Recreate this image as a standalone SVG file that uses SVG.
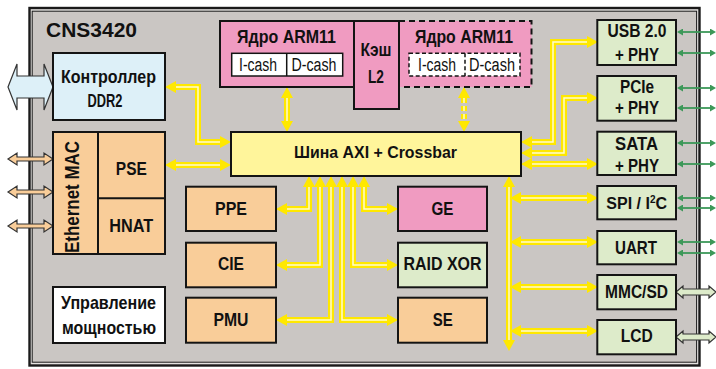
<svg xmlns="http://www.w3.org/2000/svg" width="716" height="369" viewBox="0 0 716 369">
<style>
.b{stroke:#141414;stroke-width:2}
.pink{fill:#f09bc1}.peach{fill:#f9cd99}.green{fill:#ddebca}.blue{fill:#ddf0f8}.white{fill:#fff}.bus{fill:#fff59b}
.t{font-family:"Liberation Sans",Arial,sans-serif;font-weight:700;font-size:17.5px;text-anchor:middle;fill:#111}
.r{font-family:"Liberation Sans",Arial,sans-serif;font-weight:400;font-size:18px;text-anchor:middle;fill:#111}
.yo{fill:none;stroke:#ffe800;stroke-width:6;marker-start:url(#ya);marker-end:url(#ya)}
.yi{fill:none;stroke:#fffbd0;stroke-width:1.5}
.gl{fill:none;stroke:#3c9858;stroke-width:1.8;marker-start:url(#ga);marker-end:url(#ga)}
.ho{stroke:#333;stroke-width:1.2}
</style>
<defs>
<marker id="ya" viewBox="0 0 11 12" refX="0" refY="6" markerWidth="11" markerHeight="12" markerUnits="userSpaceOnUse" orient="auto-start-reverse"><path d="M0,0 L11,6 L0,12 Z" fill="#ffe800"/></marker>
<marker id="ga" viewBox="0 0 6 7" refX="0" refY="3.5" markerWidth="6" markerHeight="7" markerUnits="userSpaceOnUse" orient="auto-start-reverse"><path d="M0,0 L6,3.5 L0,7 Z" fill="#3c9858"/></marker>
</defs>
<g id="frame">
<rect x="29.5" y="8" width="670" height="357.5" fill="#e4e2e0" stroke="#1a1a1a" stroke-width="2.4"/>
<rect x="32.2" y="11.2" width="664.4" height="351" fill="#cac6c3" stroke="#1a1a1a" stroke-width="1"/>
<text class="t" x="46" y="37" style="text-anchor:start;font-size:19.5px" textLength="91" lengthAdjust="spacingAndGlyphs">CNS3420</text>
</g>
<g id="connectors">
<path class="yo" d="M220,142 H198 V87 H176"/><path class="yi" d="M220,142 H198 V87 H176"/>
<path class="yo" d="M176,165 H220"/><path class="yi" d="M176,165 H220"/>
<path class="yo" d="M287,98 V121"/><path class="yi" d="M287,98 V121"/>
<path class="yo" d="M464,98 V121" stroke-dasharray="5 3"/><path class="yi" d="M464,98 V121" stroke-dasharray="5 3"/>
<path class="yo" d="M309,187 V209 H287"/><path class="yi" d="M309,187 V209 H287"/>
<path class="yo" d="M320,187 V265 H287"/><path class="yi" d="M320,187 V265 H287"/>
<path class="yo" d="M331,187 V320 H287"/><path class="yi" d="M331,187 V320 H287"/>
<path class="yo" d="M342,187 V320 H387"/><path class="yi" d="M342,187 V320 H387"/>
<path class="yo" d="M353,187 V265 H387"/><path class="yi" d="M353,187 V265 H387"/>
<path class="yo" d="M364,187 V209 H387"/><path class="yi" d="M364,187 V209 H387"/>
<path class="yo" d="M532,142 H553 V42 H587"/><path class="yi" d="M532,142 H553 V42 H587"/>
<path class="yo" d="M532,153 H564 V98 H587"/><path class="yi" d="M532,153 H564 V98 H587"/>
<path class="yo" d="M532,164 H587"/><path class="yi" d="M532,164 H587"/>
<path class="yo" d="M509,187 V340"/><path class="yi" d="M509,187 V340"/>
<path class="yo" d="M521,198 H587"/><path class="yi" d="M521,198 H587"/>
<path class="yo" d="M521,242 H587"/><path class="yi" d="M521,242 H587"/>
<path class="yo" d="M521,287 H587"/><path class="yi" d="M521,287 H587"/>
<path class="yo" d="M521,331 H587"/><path class="yi" d="M521,331 H587"/>
<path class="gl" d="M683,32 H710"/><path class="gl" d="M683,53 H710"/>
<path class="gl" d="M683,88 H710"/><path class="gl" d="M683,108 H710"/>
<path class="gl" d="M683,143 H710"/><path class="gl" d="M683,164 H710"/>
<path class="gl" d="M683,198 H710"/><path class="gl" d="M683,208 H710"/>
<path class="gl" d="M683,242 H710"/><path class="gl" d="M683,253 H710"/>
<polygon class="ho" fill="#ddebca" points="676,292 683,286 683,289 709,289 709,286 716,292 709,298 709,295 683,295 683,298"/>
<polygon class="ho" fill="#ddebca" points="676,337 683,331 683,334 709,334 709,331 716,337 709,343 709,340 683,340 683,343"/>
<polygon class="ho" fill="#f9cd99" points="8,159 17,153 17,157 44,157 44,153 53,159 44,165 44,161 17,161 17,165"/>
<polygon class="ho" fill="#f9cd99" points="8,192 17,186 17,190 44,190 44,186 53,192 44,198 44,194 17,194 17,198"/>
<polygon class="ho" fill="#f9cd99" points="8,226 17,220 17,224 44,224 44,220 53,226 44,232 44,228 17,228 17,232"/>
<polygon class="ho" fill="#ddf0f8" points="8,87 17,64 17,76 44,76 44,64 53,87 44,110 44,98 17,98 17,110"/>
</g>
<g id="ddr2">
<rect class="b blue" x="53" y="53" width="112" height="67"/>
<text class="t" x="108.5" y="83" style="font-size:18.5px" textLength="95" lengthAdjust="spacingAndGlyphs">Контроллер</text>
<text class="t" x="105" y="107" style="font-size:18.5px" textLength="35" lengthAdjust="spacingAndGlyphs">DDR2</text>
</g>
<g id="arm1">
<rect class="b pink" x="220" y="21" width="134" height="66"/>
<text class="t" x="286.5" y="43" textLength="99" lengthAdjust="spacingAndGlyphs">Ядро ARM11</text>
<rect x="231.7" y="53.3" width="111" height="22.7" fill="#fff" stroke="#141414" stroke-width="1.5"/>
<line x1="286.7" y1="53.3" x2="286.7" y2="76" stroke="#141414" stroke-width="1.5"/>
<text class="r" x="258" y="71" textLength="38" lengthAdjust="spacingAndGlyphs">I-cash</text>
<text class="r" x="314" y="71" textLength="45" lengthAdjust="spacingAndGlyphs">D-cash</text>
</g>
<g id="arm2">
<rect class="pink" x="399" y="21" width="132.5" height="66" stroke="#141414" stroke-width="2" stroke-dasharray="6 4"/>
<text class="t" x="464" y="43" textLength="98" lengthAdjust="spacingAndGlyphs">Ядро ARM11</text>
<rect x="409" y="53.3" width="111" height="22.7" fill="#fff" stroke="#141414" stroke-width="1.5" stroke-dasharray="4 2.5"/>
<line x1="465" y1="53.3" x2="465" y2="76" stroke="#141414" stroke-width="1.5" stroke-dasharray="4 2.5"/>
<text class="r" x="437" y="71" textLength="38" lengthAdjust="spacingAndGlyphs">I-cash</text>
<text class="r" x="492" y="71" textLength="46" lengthAdjust="spacingAndGlyphs">D-cash</text>
</g>
<g id="l2">
<rect class="b pink" x="354" y="21" width="45" height="88"/>
<text class="t" x="376" y="56" textLength="31" lengthAdjust="spacingAndGlyphs">Кэш</text>
<text class="t" x="376" y="83" textLength="16" lengthAdjust="spacingAndGlyphs">L2</text>
</g>
<g id="axi">
<rect class="b bus" x="231" y="132" width="290" height="44"/>
<text class="t" x="375.5" y="158" style="font-size:17px" textLength="163" lengthAdjust="spacingAndGlyphs">Шина AXI + Crossbar</text>
</g>
<g id="ethernet">
<rect class="b peach" x="53" y="132" width="112" height="122"/>
<line x1="98" y1="132" x2="98" y2="254" class="b"/>
<line x1="98" y1="198.3" x2="165" y2="198.3" class="b"/>
<text class="t" transform="translate(79,197) rotate(-90)" style="font-size:19.5px" textLength="112" lengthAdjust="spacingAndGlyphs">Ethernet MAC</text>
<text class="t" x="131.3" y="175" textLength="31" lengthAdjust="spacingAndGlyphs">PSE</text>
<text class="t" x="131.3" y="232" textLength="44" lengthAdjust="spacingAndGlyphs">HNAT</text>
</g>
<g id="power">
<rect class="b white" x="53" y="287" width="112" height="56"/>
<text class="t" x="108.5" y="309" style="font-size:18.5px" textLength="95" lengthAdjust="spacingAndGlyphs">Управление</text>
<text class="t" x="109" y="334" style="font-size:18.5px" textLength="94" lengthAdjust="spacingAndGlyphs">мощностью</text>
</g>
<g id="ppe"><rect class="b peach" x="186" y="186.7" width="90" height="44.3"/><text class="t" x="231" y="214.5" textLength="32" lengthAdjust="spacingAndGlyphs">PPE</text></g>
<g id="cie"><rect class="b peach" x="186" y="242.7" width="90" height="44.6"/><text class="t" x="231" y="270" textLength="26" lengthAdjust="spacingAndGlyphs">CIE</text></g>
<g id="pmu"><rect class="b peach" x="186" y="297.7" width="90" height="45"/><text class="t" x="231" y="326" textLength="35" lengthAdjust="spacingAndGlyphs">PMU</text></g>
<g id="ge"><rect class="b pink" x="398" y="186.7" width="89" height="44.3"/><text class="t" x="442.5" y="214.5" textLength="22" lengthAdjust="spacingAndGlyphs">GE</text></g>
<g id="raid"><rect class="b green" x="398" y="242.7" width="89" height="44.6"/><text class="t" x="442.5" y="270" textLength="78" lengthAdjust="spacingAndGlyphs">RAID XOR</text></g>
<g id="se"><rect class="b peach" x="398" y="297.7" width="89" height="45"/><text class="t" x="442.7" y="326" textLength="20" lengthAdjust="spacingAndGlyphs">SE</text></g>
<g id="usb"><rect class="b green" x="597.3" y="20" width="78.7" height="45"/>
<text class="t" x="637" y="37" textLength="59" lengthAdjust="spacingAndGlyphs">USB 2.0</text>
<text class="t" x="637" y="61" textLength="44" lengthAdjust="spacingAndGlyphs">+ PHY</text></g>
<g id="pcie"><rect class="b green" x="597.3" y="76" width="78.7" height="44.7"/>
<text class="t" x="637" y="93" textLength="34" lengthAdjust="spacingAndGlyphs">PCIe</text>
<text class="t" x="637" y="113.5" textLength="44" lengthAdjust="spacingAndGlyphs">+ PHY</text></g>
<g id="sata"><rect class="b green" x="597.3" y="131.7" width="78.7" height="43.3"/>
<text class="t" x="636.5" y="150" textLength="43" lengthAdjust="spacingAndGlyphs">SATA</text>
<text class="t" x="637" y="172" textLength="44" lengthAdjust="spacingAndGlyphs">+ PHY</text></g>
<g id="spi"><rect class="b green" x="597.3" y="186" width="78.7" height="33.3"/>
<text class="t" x="636.7" y="208.5" style="font-size:16px">SPI / I<tspan style="font-size:10px" baseline-shift="6">2</tspan>C</text></g>
<g id="uart"><rect class="b green" x="597.3" y="231" width="78.7" height="33.3"/>
<text class="t" x="636" y="253.5" textLength="42" lengthAdjust="spacingAndGlyphs">UART</text></g>
<g id="mmc"><rect class="b green" x="597.3" y="275" width="78.7" height="34.3"/>
<text class="t" x="636.5" y="297.5" textLength="63" lengthAdjust="spacingAndGlyphs">MMC/SD</text></g>
<g id="lcd"><rect class="b green" x="597.3" y="320" width="78.7" height="34.3"/>
<text class="t" x="636.7" y="342" textLength="32" lengthAdjust="spacingAndGlyphs">LCD</text></g>
</svg>
